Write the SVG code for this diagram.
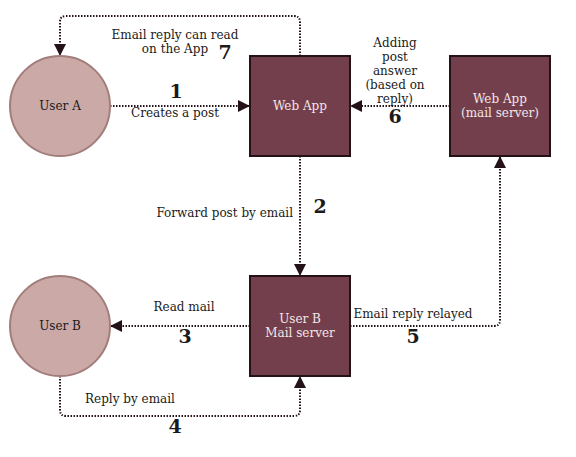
<svg xmlns="http://www.w3.org/2000/svg" width="576" height="457" viewBox="0 0 576 457">
<style>
text{font-family:"DejaVu Serif",serif;font-size:12px;fill:#1a1a1a}
.c{text-anchor:middle}
.n{font-size:19px;font-weight:bold;text-anchor:middle}
.w{fill:#f3e6e8;text-anchor:middle}
.user{fill:#cba9a7;stroke:#a27e7b;stroke-width:2}
.box{fill:#733f4c;stroke:#241218;stroke-width:2}
.e{fill:none;stroke:#241218;stroke-width:2;stroke-dasharray:1.5 1.5}
</style>
<defs>
<marker id="a" viewBox="0 0 12 12" refX="12" refY="6" markerWidth="12" markerHeight="12" markerUnits="userSpaceOnUse" orient="auto">
<path d="M0,0 L12,6 L0,12 Z" fill="#241218"/>
</marker>
</defs>
<rect width="576" height="457" fill="#ffffff"/>
<g id="connectors">
<path class="e" d="M110,106 H250" marker-end="url(#a)"/>
<path class="e" d="M300,56 V22 Q300,16 294,16 H66 Q60,16 60,22 V56" marker-end="url(#a)"/>
<path class="e" d="M450,106 H350" marker-end="url(#a)"/>
<path class="e" d="M300,156 V276" marker-end="url(#a)"/>
<path class="e" d="M250,326 H110" marker-end="url(#a)"/>
<path class="e" d="M60,376 V410 Q60,416 66,416 H294 Q300,416 300,410 V376" marker-end="url(#a)"/>
<path class="e" d="M350,326 H494 Q500,326 500,320 V156" marker-end="url(#a)"/>
<text class="c" x="175" y="117">Creates a post</text>
<text class="n" x="176" y="98">1</text>
<text class="c" x="175" y="39">Email reply can read</text>
<text class="c" x="175" y="53">on the App</text>
<text class="n" x="225" y="59">7</text>
<text class="c" x="395" y="47">Adding</text>
<text class="c" x="395" y="61">post</text>
<text class="c" x="395" y="75">answer</text>
<text class="c" x="395" y="89">(based on</text>
<text class="c" x="395" y="103">reply)</text>
<text class="n" x="395" y="123">6</text>
<text x="293" y="217" text-anchor="end">Forward post by email</text>
<text class="n" x="320" y="213">2</text>
<text class="c" x="184" y="311">Read mail</text>
<text class="n" x="185" y="343">3</text>
<text x="85" y="403">Reply by email</text>
<text class="n" x="175" y="433">4</text>
<text class="c" x="413" y="318">Email reply relayed</text>
<text class="n" x="413" y="343">5</text>
</g>
<g id="userA">
<circle class="user" cx="60" cy="106" r="50"/>
<text class="c" x="60" y="110">User A</text>
</g>
<g id="webApp">
<rect class="box" x="250" y="56" width="100" height="100"/>
<text class="w" x="300" y="110">Web App</text>
</g>
<g id="webAppMail">
<rect class="box" x="450" y="56" width="100" height="100"/>
<text class="w" x="500" y="103">Web App</text>
<text class="w" x="500" y="117">(mail server)</text>
</g>
<g id="userB">
<circle class="user" cx="60" cy="326" r="50"/>
<text class="c" x="60" y="330">User B</text>
</g>
<g id="userBMail">
<rect class="box" x="250" y="276" width="100" height="100"/>
<text class="w" x="300" y="323">User B</text>
<text class="w" x="300" y="337">Mail server</text>
</g>
</svg>
